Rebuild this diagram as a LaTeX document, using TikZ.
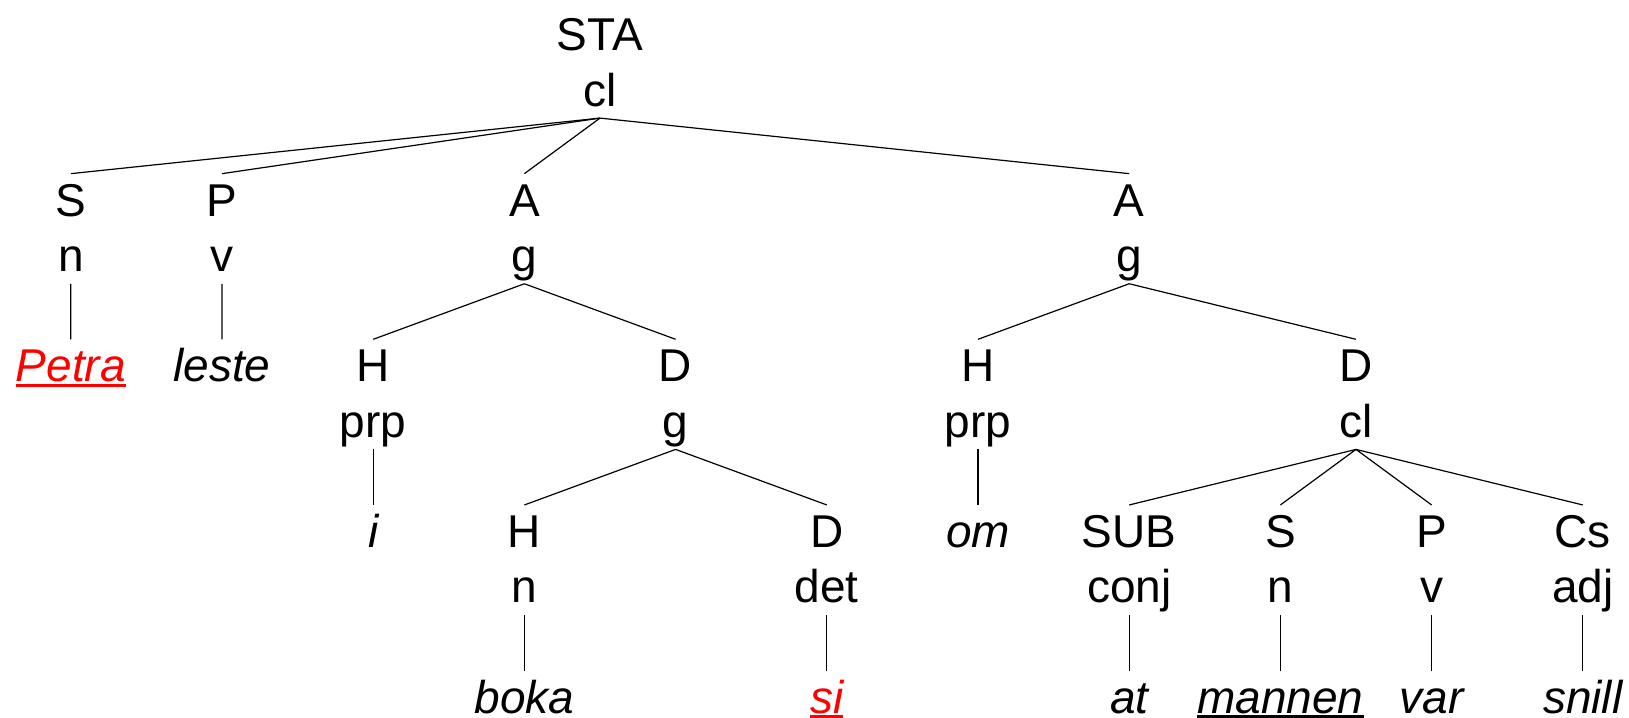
\documentclass[tikz,border=0pt]{standalone}
\usepackage{fontspec}
\setmainfont{Liberation Sans}
\usepackage{tikz}
\usetikzlibrary{trees}
\newcommand{\nodestrut}{\rule[-5.75pt]{0pt}{26.75pt}}
\newcommand{\fncat}[2]{\nodestrut#1\\\nodestrut#2}
\newcommand{\wordline}[1]{\setbox0\hbox{#1}\rlap{\rule[-2.5pt]{\wd0}{1.4pt}}\box0}

\begin{document}
\begin{tikzpicture}[level distance=55.3pt, line width=0.6pt,
      every node/.append style={anchor=north, align=center, inner sep=0pt,
        font=\fontsize{23}{27.7}\selectfont},
      word/.style={font=\fontsize{23}{27.7}\selectfont\itshape, execute at begin node=\nodestrut},
      edge from parent path={(\tikzparentnode.south) -- (\tikzchildnode.north)},
      level 1/.style={sibling distance=75.6pt},
      level 2/.style={sibling distance=37.8pt},
      level 3/.style={sibling distance=75.6pt}]
    \useasboundingbox (0,0) rectangle (814.5pt,-359pt);
    \node (STA) at (300pt,-4pt) {\fncat{STA}{cl}}
      child {node (S) {\fncat{S}{n}}
        child {node[word,red] (Petra) {\wordline{Petra}}}}
      child {node (P) {\fncat{P}{v}}
        child {node[word] (leste) {leste}}}
      child[missing]
      child {node (A1) {\fncat{A}{g}}
        child {node (H1) {\fncat{H}{prp}}
          child {node[word] (i) {i}}}
        child[missing] child[missing] child[missing]
        child {node (D1) {\fncat{D}{g}}
          child {node (H2) {\fncat{H}{n}}
            child {node[word] (boka) {boka}}}
          child[missing]
          child {node (D2) {\fncat{D}{det}}
            child {node[word,red] (si) {\wordline{si}}}}}}
      child[missing] child[missing] child[missing]
      child {node (A2) {\fncat{A}{g}}
        child[missing]
        child {node (H3) {\fncat{H}{prp}}
          child {node[word] (om) {om}}}
        child[missing] child[missing] child[missing] child[missing]
        child {node (D3) {\fncat{D}{cl}}
          child {node (SUB) {\fncat{SUB}{conj}}
            child {node[word] (at) {at}}}
          child {node (S2) {\fncat{S}{n}}
            child {node[word] (mannen) {\wordline{mannen}}}}
          child {node (P2) {\fncat{P}{v}}
            child {node[word] (var) {var}}}
          child {node (Cs) {\fncat{Cs}{adj}}
            child {node[word] (snill) {snill}}}}};
  \end{tikzpicture}
\end{document}
